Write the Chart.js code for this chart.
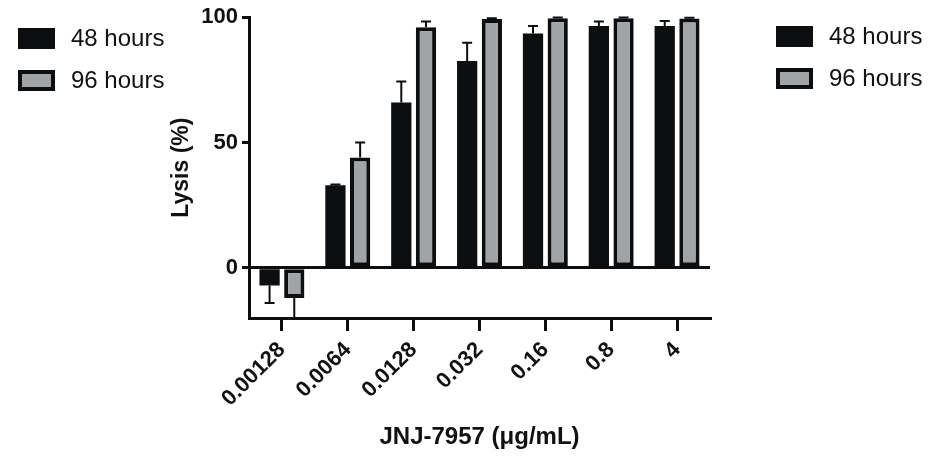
<!DOCTYPE html>
<html>
<head>
<meta charset="utf-8">
<script src="https://cdn.jsdelivr.net/npm/chart.js@4.4.1/dist/chart.umd.min.js"></script>
<style>
  html, body { margin: 0; padding: 0; background: #fff; }
  #wrap { width: 942px; height: 460px; position: relative; }
</style>
</head>
<body>
<div id="wrap"><canvas id="canvas"></canvas></div>
<script>
// JNJ-7957 concentrations (ug/mL)
const doses = ['0.00128', '0.0064', '0.0128', '0.032', '0.16', '0.8', '4'];

// mean lysis (%) and SD
const lysis48 = [-7, 33, 66, 82.5, 93.5, 96.5, 96.5];
const sd48 = [7, 0.3, 8.3, 7.3, 3, 1.8, 2];
const lysis96 = [-12, 44, 96, 99.3, 99.6, 99.6, 99.5];
const sd96 = [10, 6, 2.3, 0.3, 0.3, 0.3, 0.3];

const yTicks = [0, 50, 100];

const BLACK = '#0c0e0f';
const GREY = '#a1a3a5';
const FONT = "'Liberation Sans', Arial, Helvetica, sans-serif";

const errorBars = {
    id: 'errorBars',
    afterDatasetsDraw(chart) {
        const ctx = chart.ctx;
        const y = chart.scales.y;
        const area = chart.chartArea;
        ctx.save();
        ctx.beginPath();
        ctx.rect(area.left, area.top - 10, area.right - area.left, area.bottom - area.top + 10);
        ctx.clip();
        ctx.strokeStyle = BLACK;
        ctx.lineWidth = 2;
        chart.data.datasets.forEach((ds, i) => {
            const meta = chart.getDatasetMeta(i);
            meta.data.forEach((bar, j) => {
                const v = ds.data[j];
                const end = v >= 0 ? v + ds.sd[j] : v - ds.sd[j];
                const yEnd = y.getPixelForValue(end);
                ctx.beginPath();
                ctx.moveTo(bar.x, bar.y);
                ctx.lineTo(bar.x, yEnd);
                ctx.moveTo(bar.x - 5, yEnd);
                ctx.lineTo(bar.x + 5, yEnd);
                ctx.stroke();
            });
        });
        ctx.restore();
    }
};

// the figure shows the same key twice, left and right of the plot
const twoLegends = {
    id: 'twoLegends',
    afterDraw(chart) {
        const ctx = chart.ctx;
        const spots = [[18, 28], [776, 26]];
        ctx.save();
        ctx.font = '24px ' + FONT;
        ctx.textBaseline = 'middle';
        spots.forEach(([x0, y0]) => {
            chart.data.datasets.forEach((ds, i) => {
                const top = y0 + i * 42;
                ctx.fillStyle = BLACK;
                ctx.fillRect(x0, top, 37, 21);
                if (ds.borderWidth) {
                    ctx.fillStyle = ds.backgroundColor;
                    ctx.fillRect(x0 + 4, top + 4, 29, 13);
                }
                ctx.fillStyle = '#111';
                ctx.fillText(ds.label, x0 + 53, top + 11);
            });
        });
        ctx.restore();
    }
};

new Chart(document.getElementById('canvas'), {
    type: 'bar',
    data: {
        labels: doses,
        datasets: [
            {
                label: '48 hours',
                data: lysis48,
                sd: sd48,
                backgroundColor: BLACK,
                borderWidth: 0,
                barPercentage: 0.82,
                categoryPercentage: 0.75
            },
            {
                label: '96 hours',
                data: lysis96,
                sd: sd96,
                backgroundColor: GREY,
                borderColor: BLACK,
                borderWidth: 4,
                borderSkipped: false,
                barPercentage: 0.82,
                categoryPercentage: 0.75
            }
        ]
    },
    options: {
        responsive: true,
        maintainAspectRatio: false,
        animation: false,
        layout: { padding: { left: 0, right: 232, top: 15, bottom: 0 } },
        plugins: {
            legend: { display: false },
            tooltip: { enabled: false }
        },
        scales: {
            x: {
                afterFit: (scale) => { scale.height = 142; },
                grid: {
                    offset: false,
                    drawOnChartArea: false,
                    color: BLACK,
                    lineWidth: 3,
                    tickLength: 13
                },
                border: { display: true, color: BLACK, width: 3 },
                ticks: {
                    autoSkip: false,
                    minRotation: 45,
                    maxRotation: 45,
                    padding: 6,
                    color: '#111',
                    font: { family: FONT, size: 22, weight: 'bold' }
                },
                title: {
                    display: true,
                    text: 'JNJ-7957 (μg/mL)',
                    color: '#111',
                    padding: { top: 4, bottom: 8 },
                    font: { family: FONT, size: 24, weight: 'bold' }
                }
            },
            y: {
                min: -20,
                max: 100,
                afterFit: (scale) => { scale.width = 249; },
                afterBuildTicks: (scale) => {
                    scale.ticks = yTicks.map(v => ({ value: v }));
                },
                grid: {
                    drawOnChartArea: true,
                    color: (c) => (c.tick && c.tick.value === 0 ? BLACK : 'rgba(0,0,0,0)'),
                    tickColor: BLACK,
                    lineWidth: 3,
                    tickLength: 7
                },
                border: { display: true, color: BLACK, width: 3 },
                ticks: {
                    padding: 4,
                    color: '#111',
                    font: { family: FONT, size: 22, weight: 'bold' }
                },
                title: {
                    display: true,
                    text: 'Lysis (%)',
                    color: '#111',
                    padding: { top: 168, bottom: 0 },
                    font: { family: FONT, size: 23, weight: 'bold' }
                }
            }
        }
    },
    plugins: [errorBars, twoLegends]
});
</script>
</body>
</html>
